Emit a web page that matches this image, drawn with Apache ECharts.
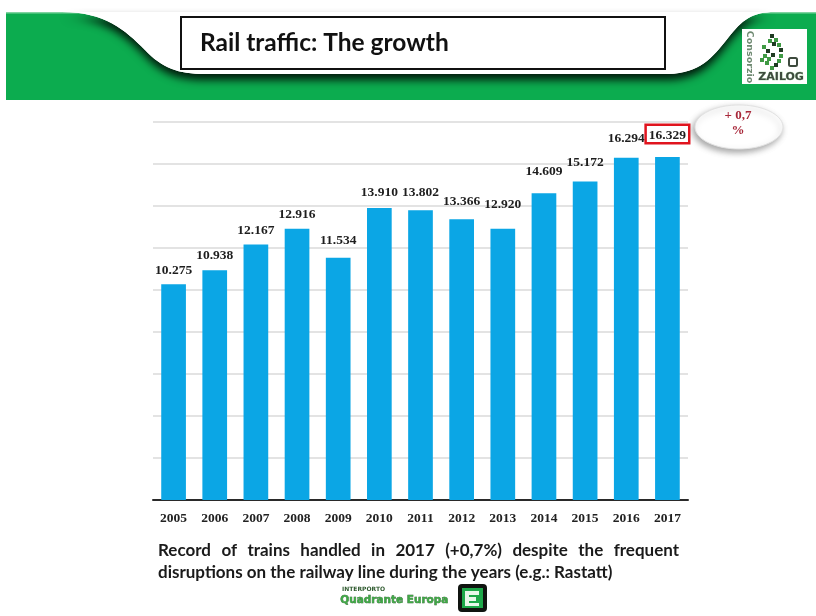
<!DOCTYPE html>
<html>
<head>
<meta charset="utf-8">
<title>Rail traffic: The growth</title>
<script src="https://cdn.jsdelivr.net/npm/echarts@6/dist/echarts.min.js"></script>
<style>
  html, body { margin: 0; padding: 0; background: #ffffff; }
  #chart { width: 816px; height: 616px; }
</style>
</head>
<body>
<div id="chart"></div>
<script>
// Trains handled per year (thousands)
const years = ['2005', '2006', '2007', '2008', '2009', '2010', '2011', '2012', '2013', '2014', '2015', '2016', '2017'];
const trains = [10.275, 10.938, 12.167, 12.916, 11.534, 13.910, 13.802, 13.366, 12.920, 14.609, 15.172, 16.294, 16.329];
const yRange = { min: 0, max: 18, step: 2 };

const titleText = 'Rail traffic: The growth';
const growthText = ['+ 0,7', '%'];
const noteLine1 = 'Record of trains handled in 2017 (+0,7%) despite the frequent';
const noteLine2 = 'disruptions on the railway line during the years (e.g.: Rastatt)';

// extra lift (px) for individual value labels
const labelLift = [0, 1, 0, 0, 3, 1, 4, 4, 10, 8, 5, 5, 8];

const BAR = '#0ba6e5';
const SERIF = '"Liberation Serif", "DejaVu Serif", serif';
const SANS = 'Lato, "Open Sans", sans-serif';

const chart = echarts.init(document.getElementById('chart'), null, { renderer: 'canvas' });

// sample a chain of cubic bezier segments into polygon points
function bezierChain(start, segs, steps) {
  const pts = [start];
  let p0 = start;
  segs.forEach(s => {
    const [c1, c2, p3] = s;
    for (let k = 1; k <= steps; k++) {
      const t = k / steps, u = 1 - t;
      pts.push([
        u * u * u * p0[0] + 3 * u * u * t * c1[0] + 3 * u * t * t * c2[0] + t * t * t * p3[0],
        u * u * u * p0[1] + 3 * u * u * t * c1[1] + 3 * u * t * t * c2[1] + t * t * t * p3[1]
      ]);
    }
    p0 = p3;
  });
  return pts;
}
function ellipsePts(cx, cy, rx, ry, n) {
  const pts = [];
  for (let k = 0; k < n; k++) {
    const a = (k / n) * Math.PI * 2;
    pts.push([cx + rx * Math.cos(a), cy + ry * Math.sin(a)]);
  }
  return pts;
}

// justify the first note line across the text block
const ctx = document.createElement('canvas').getContext('2d');
const noteFont = 'bold 17px ' + SANS;
ctx.font = noteFont;
function justified(line, x0, x1, y) {
  const words = line.split(' ');
  const widths = words.map(w => ctx.measureText(w).width);
  const total = widths.reduce((a, b) => a + b, 0);
  const gap = (x1 - x0 - total) / (words.length - 1);
  let x = x0;
  return words.map((w, i) => {
    const el = {
      type: 'text', left: x, top: y,
      style: { text: w, font: noteFont, fill: '#1a1a1a' }
    };
    x += widths[i] + gap;
    return el;
  });
}

const lastIdx = trains.length - 1;
const barData = trains.map((v, i) => {
  const item = { value: v };
  if (i === lastIdx) {
    item.label = {
      offset: [0, -labelLift[i]],
      borderColor: '#e0141e',
      borderWidth: 2.5,
      padding: [2, 2, 0, 2],
      backgroundColor: '#ffffff'
    };
  } else {
    item.label = { offset: [0, -labelLift[i]] };
  }
  return item;
});

// header: green band with a white hanging tab
const tabPts = bezierChain([62, 12], [
  [[105, 12], [125, 30], [145, 50]],
  [[162, 68], [178, 74], [205, 74]],
  [[400, 74], [500, 74], [668, 74]],
  [[700, 73], [712, 58], [728, 38]],
  [[742, 20], [752, 12], [775, 12]]
], 16);

const headerGraphics = [
  { type: 'rect', shape: { x: 6, y: 12, width: 810, height: 88 },
    style: { fill: '#0cac4f' }, z: 1 },
  { type: 'rect', shape: { x: 6, y: 12, width: 810, height: 1.5 },
    style: { fill: '#7fd3a0' }, z: 1 },
  { type: 'polygon', z: 2, shape: { points: tabPts },
    style: { fill: '#ffffff', shadowBlur: 9, shadowOffsetY: 6, shadowOffsetX: 0, shadowColor: 'rgba(0,0,0,0.85)' } },
  { type: 'polygon', z: 3, shape: { points: tabPts },
    style: { fill: '#ffffff' } },
  { type: 'rect', z: 4, shape: { x: 181, y: 17, width: 484, height: 52 },
    style: { fill: '#ffffff', stroke: '#111111', lineWidth: 2 } },
  { type: 'text', z: 5, left: 200, top: 31,
    style: { text: titleText, font: 'bold 24.5px ' + SANS, fill: '#111111' } },
  // consortium logo
  { type: 'rect', z: 4, shape: { x: 742, y: 29, width: 65, height: 55 },
    style: { fill: '#ffffff' } },
  { type: 'text', z: 5, x: 749, y: 57, rotation: -Math.PI / 2,
    style: { text: 'Consorzio', font: 'bold 9.5px "DejaVu Sans", sans-serif', fill: '#6f8a72', align: 'center', verticalAlign: 'middle' } },
  { type: 'text', z: 5, left: 758, top: 71,
    style: { text: 'ZAILOG', font: 'bold 11px "DejaVu Sans", sans-serif', fill: '#3d4a3d', stroke: '#9fd09f', lineWidth: 0.6 } },
  { type: 'rect', z: 5, shape: { x: 789, y: 58, width: 8, height: 8, r: 1.5 },
    style: { fill: '#ffffff', stroke: '#3d4a3d', lineWidth: 2 } }
];

// dotted swirl inside the consortium logo
const swirlDots = [
  [772, 36], [776, 40], [779, 45], [781, 50], [781, 56], [779, 61], [776, 65], [772, 68],
  [764, 47], [768, 51], [765, 56], [769, 59], [773, 55], [762, 60], [767, 63], [774, 44], [770, 41]
];
swirlDots.forEach((p, i) => {
  headerGraphics.push({
    type: 'rect', z: 5,
    shape: { x: p[0] - 2, y: p[1] - 2, width: 4, height: 4 },
    style: { fill: i % 3 === 0 ? '#1f3b22' : '#3f9a44' }
  });
});

// growth badge next to the last bar
const badgeGraphics = [
  { type: 'polygon', z: 2, shape: { points: ellipsePts(739, 127, 44, 22, 72) },
    style: { fill: '#ffffff', stroke: '#e2e2e2', lineWidth: 1, shadowBlur: 6, shadowOffsetX: -2, shadowOffsetY: 3, shadowColor: 'rgba(0,0,0,0.35)' } },
  { type: 'text', z: 3, x: 738, y: 116,
    style: { text: growthText[0], font: 'bold 13px ' + SERIF, fill: '#a8283a', align: 'center', verticalAlign: 'middle' } },
  { type: 'text', z: 3, x: 738, y: 131,
    style: { text: growthText[1], font: 'bold 13px ' + SERIF, fill: '#a8283a', align: 'center', verticalAlign: 'middle' } }
];

// footer logo
const footerGraphics = [
  { type: 'text', left: 342, top: 586,
    style: { text: 'INTERPORTO', font: 'bold 6px "DejaVu Sans", sans-serif', fill: '#2f5a2f' } },
  { type: 'text', left: 340, top: 595,
    style: { text: 'Quadrante Europa', font: 'bold 10.5px "DejaVu Sans", sans-serif', fill: '#3fa845', stroke: '#1f4a22', lineWidth: 0.5 } },
  { type: 'rect', shape: { x: 458, y: 584, width: 29, height: 28, r: 4 },
    style: { fill: '#101410' } },
  { type: 'rect', shape: { x: 462, y: 588, width: 21, height: 20 },
    style: { fill: '#1ea84a' } },
  { type: 'polygon', shape: { points: [[465, 591], [479, 591], [479, 595], [469, 595], [469, 597], [476, 597], [476, 601], [469, 601], [469, 603], [479, 603], [479, 606], [465, 606]] },
    style: { fill: '#e8f7ea' } }
];

const noteGraphics = justified(noteLine1, 158, 679, 542).concat([
  { type: 'text', left: 158, top: 564, style: { text: noteLine2, font: noteFont, fill: '#1a1a1a' } }
]);

const option = {
  backgroundColor: '#ffffff',
  animation: false,
  grid: { left: 153, right: 128, top: 122, bottom: 116, containLabel: false },
  xAxis: {
    type: 'category',
    data: years,
    axisLine: { lineStyle: { color: '#2a2a2a', width: 2 } },
    axisTick: { show: false },
    axisLabel: { margin: 12, fontFamily: SERIF, fontWeight: 'bold', fontSize: 13.5, color: '#222222' }
  },
  yAxis: {
    type: 'value',
    min: yRange.min,
    max: yRange.max,
    interval: yRange.step,
    axisLine: { show: false },
    axisTick: { show: false },
    axisLabel: { show: false },
    splitLine: { lineStyle: { color: '#dadada', width: 1.5 } }
  },
  series: [{
    type: 'bar',
    data: barData,
    barCategoryGap: '40%',
    itemStyle: { color: BAR },
    label: {
      show: true,
      position: 'top',
      distance: 7,
      fontFamily: SERIF,
      fontWeight: 'bold',
      fontSize: 13.5,
      color: '#1e1e1e',
      formatter: p => p.value.toFixed(3)
    },
    z: 2
  }],
  graphic: { elements: headerGraphics.concat(badgeGraphics, footerGraphics, noteGraphics) }
};

chart.setOption(option);
</script>
</body>
</html>
